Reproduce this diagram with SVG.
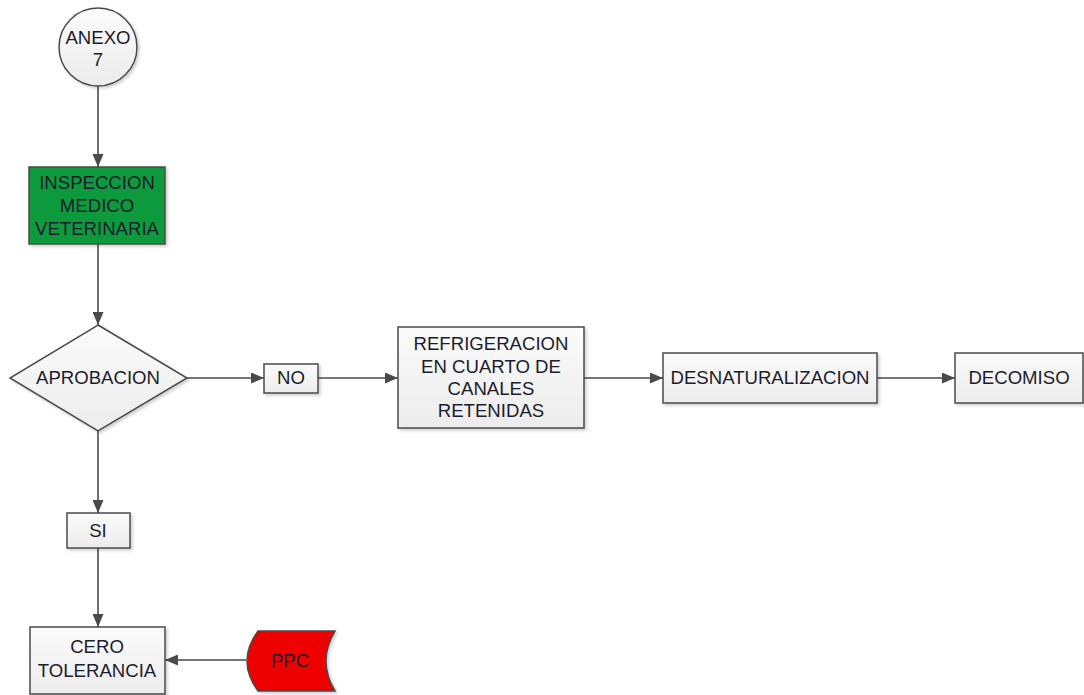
<svg xmlns="http://www.w3.org/2000/svg" width="1084" height="695" viewBox="0 0 1084 695">
  <style>
    .box { fill: url(#boxFill); stroke: #4a4a4a; stroke-width: 1.5; filter: url(#shadow); }
    .lbl { font-family: "Liberation Sans", Arial, sans-serif; font-size: 18.6px; fill: #1c1c2c; text-anchor: middle; }
    .wire { fill: none; stroke: #4a4a4a; stroke-width: 1.6; marker-end: url(#arrow); }
  </style>
  <defs>
    <linearGradient id="boxFill" x1="0" y1="0" x2="0" y2="1">
      <stop offset="0" stop-color="#fbfbfb"/>
      <stop offset="1" stop-color="#ececec"/>
    </linearGradient>
    <filter id="shadow" x="-10%" y="-10%" width="130%" height="130%">
      <feDropShadow dx="2" dy="2" stdDeviation="1.5" flood-color="#000" flood-opacity="0.18"/>
    </filter>
    <marker id="arrow" viewBox="0 0 13 11" refX="13" refY="5.5" markerWidth="13" markerHeight="11" markerUnits="userSpaceOnUse" orient="auto">
      <path d="M0,0 L13,5.5 L0,11 Z" fill="#4a4a4a"/>
    </marker>
  </defs>

  <rect width="1084" height="695" fill="#ffffff"/>

  <g id="connectors">
    <line class="wire" x1="98" y1="86" x2="98" y2="167"/>
    <line class="wire" x1="98" y1="244" x2="98" y2="325"/>
    <line class="wire" x1="187" y1="378" x2="264" y2="378"/>
    <line class="wire" x1="318" y1="378" x2="398" y2="378"/>
    <line class="wire" x1="584" y1="378" x2="663" y2="378"/>
    <line class="wire" x1="877" y1="378" x2="955" y2="378"/>
    <line class="wire" x1="98" y1="431" x2="98" y2="513"/>
    <line class="wire" x1="98" y1="548" x2="98" y2="627"/>
    <line class="wire" x1="246" y1="660" x2="165" y2="660"/>
  </g>

  <g id="anexo">
    <circle class="box" cx="98" cy="47" r="39"/>
    <text class="lbl" x="98" y="44">ANEXO</text>
    <text class="lbl" x="98" y="66">7</text>
  </g>

  <g id="inspeccion">
    <rect x="29" y="167" width="136" height="77" fill="#0f9a3c" stroke="#4a4a4a" stroke-width="1.5" filter="url(#shadow)"/>
    <text class="lbl" x="97" y="189">INSPECCION</text>
    <text class="lbl" x="97" y="212">MEDICO</text>
    <text class="lbl" x="97" y="235">VETERINARIA</text>
  </g>

  <g id="aprobacion">
    <polygon class="box" points="98,325 187,378 98,431 10,378"/>
    <text class="lbl" x="98" y="384">APROBACION</text>
  </g>

  <g id="no">
    <rect class="box" x="264" y="364" width="54" height="29"/>
    <text class="lbl" x="291" y="384">NO</text>
  </g>

  <g id="refrigeracion">
    <rect class="box" x="398" y="327" width="186" height="101"/>
    <text class="lbl" x="491" y="350">REFRIGERACION</text>
    <text class="lbl" x="491" y="373">EN CUARTO DE</text>
    <text class="lbl" x="491" y="395">CANALES</text>
    <text class="lbl" x="491" y="417">RETENIDAS</text>
  </g>

  <g id="desnaturalizacion">
    <rect class="box" x="663" y="353" width="214" height="50"/>
    <text class="lbl" x="770" y="384">DESNATURALIZACION</text>
  </g>

  <g id="decomiso">
    <rect class="box" x="955" y="353" width="128" height="50"/>
    <text class="lbl" x="1019" y="384">DECOMISO</text>
  </g>

  <g id="si">
    <rect class="box" x="67" y="513" width="63" height="35"/>
    <text class="lbl" x="98" y="537">SI</text>
  </g>

  <g id="cero-tolerancia">
    <rect class="box" x="30" y="627" width="135" height="67"/>
    <text class="lbl" x="97" y="653">CERO</text>
    <text class="lbl" x="97" y="677">TOLERANCIA</text>
  </g>

  <g id="ppc">
    <path d="M258,631 H335 Q317,661 335,691 H258 Q236,661 258,631 Z" fill="#ee0000" stroke="#4a4a4a" stroke-width="1.5" filter="url(#shadow)"/>
    <text class="lbl" x="290" y="667">PPC</text>
  </g>
</svg>
